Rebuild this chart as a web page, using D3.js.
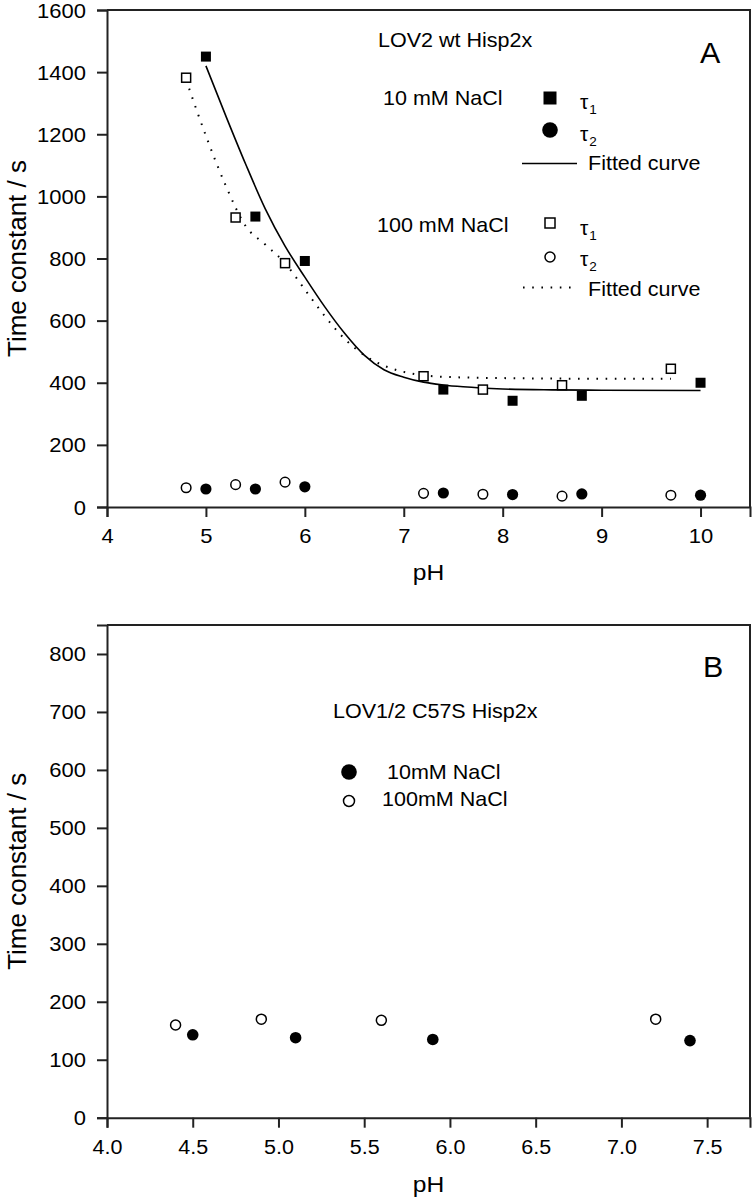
<!DOCTYPE html>
<html><head><meta charset="utf-8">
<script src="https://cdn.jsdelivr.net/npm/d3@7"></script>
<style>body{margin:0;background:#fff}svg{display:block}text{font-family:"Liberation Sans",Arial,sans-serif;fill:#000}</style>
</head><body>
<svg id="c" width="754" height="1199"></svg>
<script>
// ---- Panel A data ----
const phA10 = [5.0, 5.5, 6.0, 7.4, 8.1, 8.8, 10.0];
const tau1A10 = [1450, 935, 792, 378, 342, 358, 400];
const tau2A10 = [58, 58, 65, 45, 40, 42, 38];
const phA100 = [4.8, 5.3, 5.8, 7.2, 7.8, 8.6, 9.7];
const tau1A100 = [1382, 932, 785, 421, 378, 392, 445];
const tau2A100 = [62, 72, 80, 44, 41, 35, 38];
// fitted curves
const fitPH10 = [5.0, 5.2, 5.4, 5.6, 5.8, 6.0, 6.2, 6.4, 6.6, 6.8, 7.0, 7.2, 7.4, 7.6, 8.0, 8.5, 9.0, 10.0];
const fit10 = [1420, 1260, 1105, 960, 840, 740, 645, 560, 489, 442, 418, 402, 393, 387, 380, 377, 376, 375];
const fitPH100 = [4.8, 5.0, 5.2, 5.4, 5.6, 5.8, 6.0, 6.2, 6.4, 6.6, 6.8, 7.0, 7.2, 7.5, 8.0, 9.0, 9.7];
const fit100 = [1375, 1195, 1035, 905, 845, 785, 700, 615, 542, 489, 455, 435, 424, 418, 415, 413, 413];
const xTicksA = [4, 5, 6, 7, 8, 9, 10];
const yTicksA = [0, 200, 400, 600, 800, 1000, 1200, 1400, 1600];
// ---- Panel B data ----
const phB10 = [4.5, 5.1, 5.9, 7.4];
const tauB10 = [143, 138, 135, 133];
const phB100 = [4.4, 4.9, 5.6, 7.2];
const tauB100 = [160, 170, 168, 170];
const xTicksB = [4.0, 4.5, 5.0, 5.5, 6.0, 6.5, 7.0, 7.5];
const yTicksB = [0, 100, 200, 300, 400, 500, 600, 700, 800];

const svg = d3.select("#c");
const INK = "#222";

function txt(g, x, y, s, size, sx, anchor) {
  return g.append("text").attr("transform", `translate(${x},${y}) scale(${sx},1)`)
    .attr("font-size", size).attr("text-anchor", anchor || "start").text(s);
}
function tau(g, x, y, sub) {
  const t = g.append("text").attr("x", x).attr("y", y).attr("font-size", 21)
    .attr("font-family", "DejaVu Serif, serif");
  t.append("tspan").text("τ");
  t.append("tspan").attr("font-size", 13.5).attr("dy", 5).attr("dx", 1)
    .attr("font-family", "Liberation Sans, Arial, sans-serif").text(sub);
}

function frame(g, x, y) {
  const [x0, x1] = x.range(), [y0, y1] = y.range();
  g.append("path").attr("d", `M${x0},${y1}H${x1}V${y0}`).attr("fill", "none")
    .attr("stroke", INK).attr("stroke-width", 2);
}
function axes(g, x, y, xt, yt, xfmt, xsize, xsx, ysize, ysx) {
  const ax = g.append("g").attr("transform", `translate(0,${y.range()[0]})`)
    .call(d3.axisBottom(x).tickValues(xt).tickSize(10).tickFormat(xfmt));
  ax.selectAll("text").attr("y", 0).attr("dy", 0).attr("font-size", xsize)
    .attr("transform", `translate(0,36) scale(${xsx},1)`);
  const ay = g.append("g").attr("transform", `translate(${x.range()[0]},0)`)
    .call(d3.axisLeft(y).tickValues(yt).tickSize(10).tickFormat(d3.format("d")));
  ay.selectAll("text").attr("x", 0).attr("dy", "0.35em").attr("font-size", ysize)
    .attr("transform", `translate(-21,0) scale(${ysx},1)`);
  [ax, ay].forEach(a => {
    a.select(".domain").attr("stroke", INK).attr("stroke-width", 2);
    a.selectAll(".tick line").attr("stroke", INK).attr("stroke-width", 2);
    a.attr("font-family", null);
    a.selectAll("text").attr("fill", "#000");
  });
}

// ================= Panel A =================
const gA = svg.append("g");
const xA = d3.scaleLinear().domain([4, 10.5]).range([107, 750]);
const yA = d3.scaleLinear().domain([0, 1600]).range([507, 10]);
frame(gA, xA, yA);
axes(gA, xA, yA, xTicksA, yTicksA, d3.format("d"), 20, 1.1, 20, 1.1);

const line = d3.line().curve(d3.curveMonotoneX);
gA.append("path").attr("d", line(fitPH10.map((p, i) => [xA(p), yA(fit10[i])])))
  .attr("fill", "none").attr("stroke", "#000").attr("stroke-width", 1.6);
gA.append("path").attr("d", line(fitPH100.map((p, i) => [xA(p), yA(fit100[i])])))
  .attr("fill", "none").attr("stroke", "#000").attr("stroke-width", 2)
  .attr("stroke-dasharray", "1.6,7.6").attr("stroke-linecap", "butt");

function squares(g, xs, ys, x, y, filled, s) {
  g.append("g").selectAll("rect").data(xs).join("rect")
    .attr("x", (d) => x(d) - s / 2).attr("y", (d, i) => y(ys[i]) - s / 2)
    .attr("width", s).attr("height", s)
    .attr("fill", filled ? "#000" : "#fff").attr("stroke", "#000")
    .attr("stroke-width", filled ? 0 : 1.5);
}
function circles(g, xs, ys, x, y, filled, r) {
  g.append("g").selectAll("circle").data(xs).join("circle")
    .attr("cx", (d) => x(d)).attr("cy", (d, i) => y(ys[i])).attr("r", r)
    .attr("fill", filled ? "#000" : "#fff").attr("stroke", "#000")
    .attr("stroke-width", filled ? 0 : 1.5);
}
squares(gA, phA100, tau1A100, xA, yA, false, 9);
squares(gA, phA10, tau1A10, xA, yA, true, 10);
circles(gA, phA100, tau2A100, xA, yA, false, 4.8);
circles(gA, phA10, tau2A10, xA, yA, true, 5.6);

// legend A
const LF = 20.5, LS = 1.05;
txt(gA, 378, 47, "LOV2 wt Hisp2x", LF, LS);
txt(gA, 700, 63, "A", 29, 1.05);
txt(gA, 383, 105, "10 mM NaCl", LF, LS);
gA.append("rect").attr("x", 550 - 6.5).attr("y", 98 - 6.5).attr("width", 13).attr("height", 13).attr("fill", "#000");
tau(gA, 580, 109, "1");
gA.append("circle").attr("cx", 550).attr("cy", 130).attr("r", 7.8).attr("fill", "#000");
tau(gA, 580, 141, "2");
gA.append("line").attr("x1", 522).attr("x2", 577).attr("y1", 163.5).attr("y2", 163.5).attr("stroke", "#000").attr("stroke-width", 1.6);
txt(gA, 588, 170, "Fitted curve", LF, LS);
txt(gA, 377, 232, "100 mM NaCl", LF, LS);
gA.append("rect").attr("x", 550 - 5).attr("y", 223 - 5).attr("width", 10).attr("height", 10).attr("fill", "#fff").attr("stroke", "#000").attr("stroke-width", 1.5);
tau(gA, 580, 235, "1");
gA.append("circle").attr("cx", 550).attr("cy", 257).attr("r", 5).attr("fill", "#fff").attr("stroke", "#000").attr("stroke-width", 1.5);
tau(gA, 580, 266, "2");
gA.append("line").attr("x1", 523).attr("x2", 577).attr("y1", 287.5).attr("y2", 287.5).attr("stroke", "#000").attr("stroke-width", 2).attr("stroke-dasharray", "1.6,7.6");
txt(gA, 588, 296, "Fitted curve", LF, LS);

// titles A
gA.append("text").attr("transform", `translate(26,${(yA.range()[0] + yA.range()[1]) / 2}) rotate(-90)`)
  .attr("text-anchor", "middle").attr("font-size", 26).text("Time constant / s");
txt(gA, (xA.range()[0] + xA.range()[1]) / 2, 580, "pH", 22, 1.12, "middle");

// ================= Panel B =================
const gB = svg.append("g");
const xB = d3.scaleLinear().domain([4, 7.75]).range([107, 750]);
const yB = d3.scaleLinear().domain([0, 850]).range([1117.7, 625]);
frame(gB, xB, yB);
axes(gB, xB, yB, xTicksB, yTicksB, d3.format(".1f"), 20.5, 1.05, 20, 1.1);

circles(gB, phB100, tauB100, xB, yB, false, 5);
circles(gB, phB10, tauB10, xB, yB, true, 5.8);

txt(gB, 333, 718, "LOV1/2 C57S Hisp2x", LF, LS);
txt(gB, 703, 677, "B", 29, 1.05);
gB.append("circle").attr("cx", 349).attr("cy", 772).attr("r", 7.8).attr("fill", "#000");
txt(gB, 387, 779, "10mM NaCl", LF, LS);
gB.append("circle").attr("cx", 349).attr("cy", 801).attr("r", 5.5).attr("fill", "#fff").attr("stroke", "#000").attr("stroke-width", 1.5);
txt(gB, 382, 806, "100mM NaCl", LF, LS);

gB.append("text").attr("transform", `translate(26,${(yB.range()[0] + yB.range()[1]) / 2}) rotate(-90)`)
  .attr("text-anchor", "middle").attr("font-size", 26).text("Time constant / s");
txt(gB, (xB.range()[0] + xB.range()[1]) / 2, 1192, "pH", 22, 1.12, "middle");
</script>
</body></html>
